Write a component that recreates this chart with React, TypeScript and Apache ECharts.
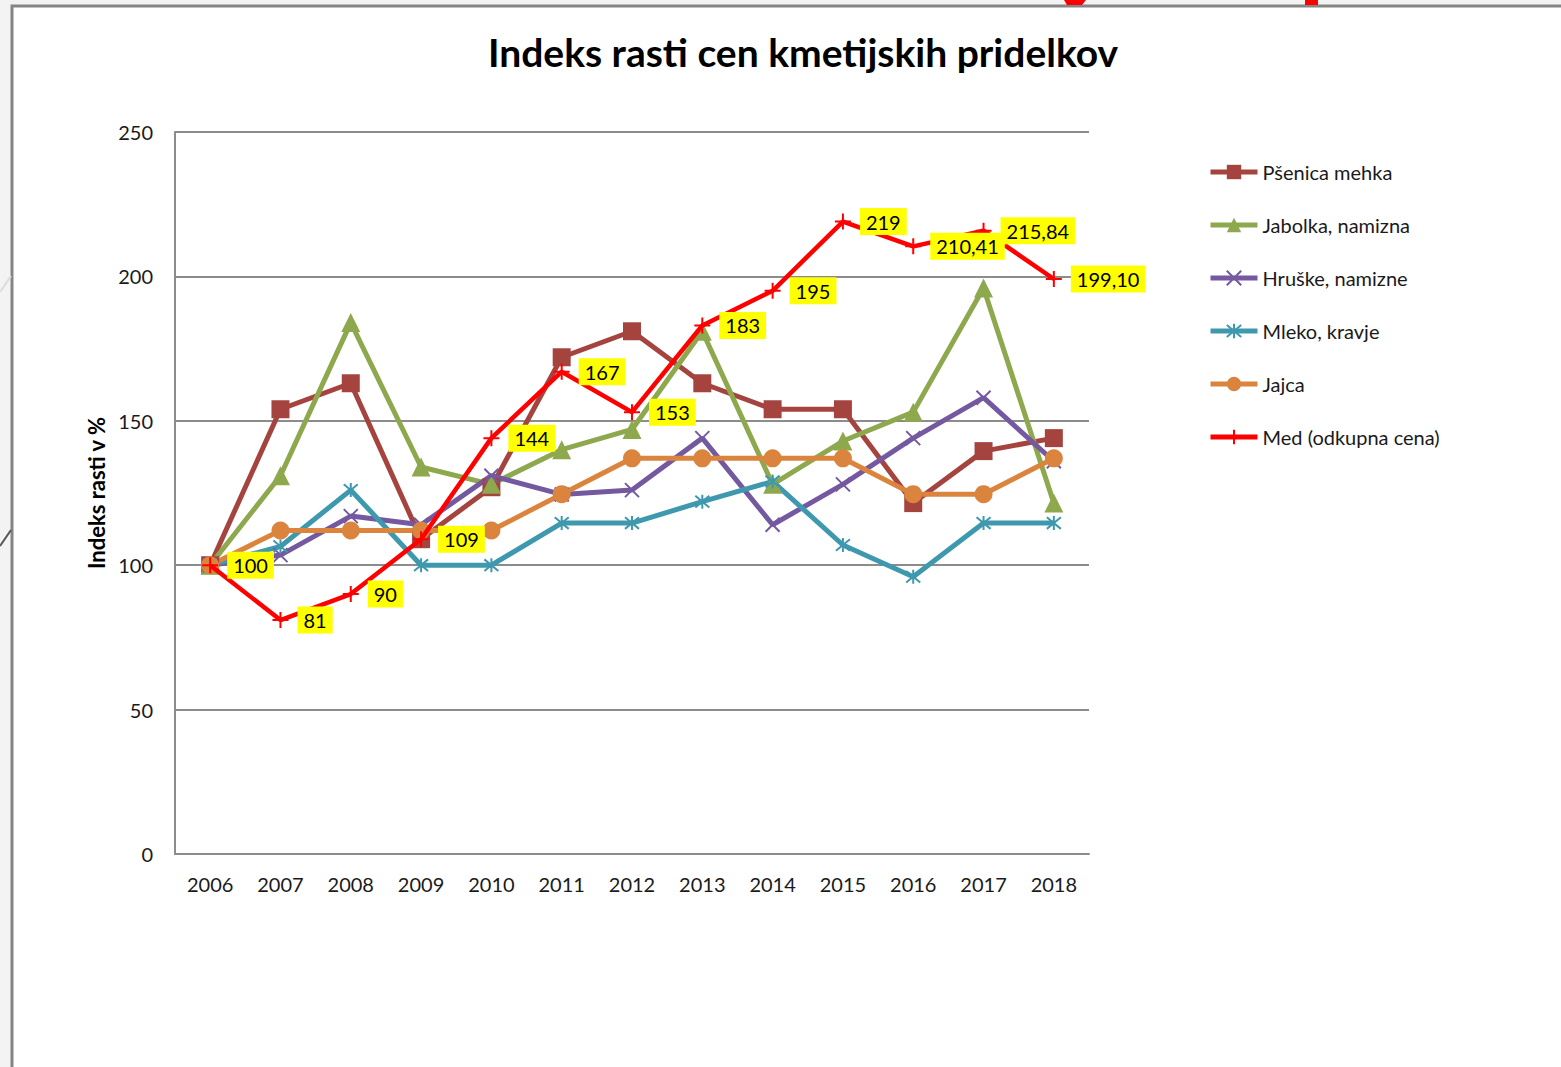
import React, { useEffect, useRef } from "react";
import * as echarts from "echarts";

const years = ["2006", "2007", "2008", "2009", "2010", "2011", "2012", "2013", "2014", "2015", "2016", "2017", "2018"];
const psenica = [100, 154, 163, 109, 127, 172, 181, 163, 154, 154, 121.5, 139.5, 144];
const jabolka = [100, 131, 184, 134, 128, 140, 147, 181, 128, 143, 153, 196, 121.5];
const hruske = [100, 103.5, 117, 114, 131, 124.5, 126, 144, 114, 128, 144, 158, 136];
const mleko = [100, 106.5, 126, 100, 100, 114.6, 114.6, 122, 129, 107, 96, 114.6, 114.6];
const jajca = [100, 112, 112, 112, 112, 124.6, 137, 137, 137, 137, 124.6, 124.6, 137];
const med = [100, 81, 90, 109, 144, 167, 153, 183, 195, 219, 210.41, 215.84, 199.1];
const medLabels = ["100", "81", "90", "109", "144", "167", "153", "183", "195", "219", "210,41", "215,84", "199,10"];
const yTicks = [0, 50, 100, 150, 200, 250];

const FONT = "Lato, 'Open Sans', sans-serif";

export default function App() {
  const ref = useRef<HTMLDivElement>(null);
  useEffect(() => {
    if (!ref.current) return;
    const chart = echarts.init(ref.current, null, { renderer: "svg" });
    const mk = (name: string, data: number[], color: string, symbol: string, size: number, stroke = false) => ({
      name,
      type: "line",
      data,
      symbol,
      symbolSize: size,
      lineStyle: { color, width: 5 },
      itemStyle: stroke
        ? { color, borderColor: color, borderWidth: 2 }
        : { color, borderWidth: 0 },
      emphasis: { disabled: true },
    });
    chart.setOption({
      animation: false,
      backgroundColor: "#f3f3f3",
      textStyle: { fontFamily: FONT },
      graphic: [
        { type: "rect", z: -10, shape: { x: 12, y: 6, width: 1600, height: 1100 }, style: { fill: "#ffffff", stroke: "#858585", lineWidth: 3 } },
        { type: "polygon", z: -9, shape: { points: [[1064, 0], [1086, 0], [1082, 5], [1067, 5]] }, style: { fill: "#ff0000" } },
        { type: "rect", z: -9, shape: { x: 1305, y: 0, width: 13, height: 5 }, style: { fill: "#ff0000" } },
        { type: "line", z: -9, shape: { x1: 0, y1: 292, x2: 11, y2: 276 }, style: { stroke: "#dcdcdc", lineWidth: 2 } },
        { type: "line", z: -9, shape: { x1: 0, y1: 546, x2: 11, y2: 530 }, style: { stroke: "#555555", lineWidth: 2 } },
      ],
      title: {
        text: "Indeks rasti cen kmetijskih pridelkov",
        left: 798,
        top: 27,
        textAlign: "center",
        textStyle: { fontFamily: FONT, fontSize: 39, fontWeight: "bold", color: "#000" },
      },
      legend: {
        orient: "vertical",
        left: 1203,
        top: 157,
        itemWidth: 47,
        itemHeight: 18,
        itemGap: 33,
        lineStyle: { width: 5 },
        textStyle: { fontFamily: FONT, fontSize: 20, color: "#1a1a1a" },
        data: ["Pšenica mehka", "Jabolka, namizna", "Hruške, namizne", "Mleko, kravje", "Jajca", "Med (odkupna cena)"],
      },
      grid: { left: 175, right: 472, top: 132, bottom: 213 },
      xAxis: {
        type: "category",
        data: years,
        boundaryGap: true,
        axisTick: { show: false },
        axisLine: { lineStyle: { color: "#8c8c8c", width: 2 } },
        axisLabel: { fontFamily: FONT, fontSize: 20, color: "#1a1a1a", margin: 20 },
      },
      yAxis: {
        type: "value",
        min: 0,
        max: 250,
        interval: 50,
        name: "Indeks rasti v %",
        nameLocation: "middle",
        nameGap: 68,
        nameRotate: 90,
        nameTextStyle: { fontFamily: FONT, fontSize: 22, fontWeight: "bold", color: "#000" },
        axisLine: { show: true, lineStyle: { color: "#8c8c8c", width: 2 } },
        axisTick: { show: false },
        splitLine: { lineStyle: { color: "#8c8c8c", width: 2 } },
        axisLabel: {
          fontFamily: FONT,
          fontSize: 20,
          color: "#1a1a1a",
          margin: 22,
          formatter: (v: number) => (yTicks.includes(v) ? String(v) : ""),
        },
      },
      series: [
        mk("Pšenica mehka", psenica, "#A5443F", "rect", 18),
        mk("Jabolka, namizna", jabolka, "#8EA84E", "triangle", 19),
        mk("Hruške, namizne", hruske, "#7559A0", "path://M0,0L10,10M10,0L0,10", 14, true),
        mk("Mleko, kravje", mleko, "#3E98AE", "path://M0,0L10,10M10,0L0,10M5,-1L5,11", 14, true),
        mk("Jajca", jajca, "#DB843D", "circle", 18),
        {
          ...mk("Med (odkupna cena)", med, "#FF0000", "path://M5,0L5,10M0,5L10,5", 16, true),
          lineStyle: { color: "#FF0000", width: 4.5 },
          label: {
            show: true,
            position: "right",
            distance: 8,
            formatter: (p: any) => medLabels[p.dataIndex],
            backgroundColor: "#FFFF00",
            padding: [4, 6, 3, 6],
            color: "#000",
            fontFamily: FONT,
            fontSize: 20,
          },
          z: 5,
        },
      ],
    });
    return () => chart.dispose();
  }, []);
  return <div ref={ref} style={{ position: "fixed", left: 0, top: 0, width: 1561, height: 1067 }} />;
}
